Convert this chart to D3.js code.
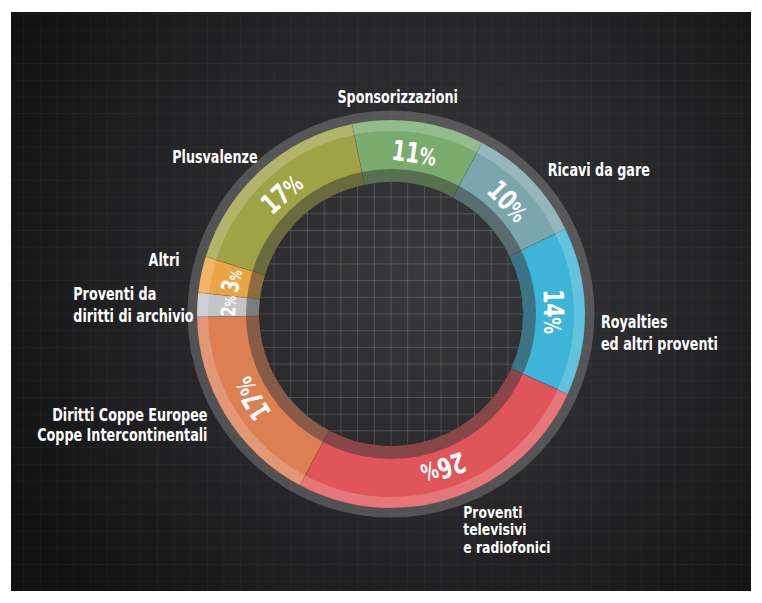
<!DOCTYPE html>
<html>
<head>
<meta charset="utf-8">
<script src="https://cdn.jsdelivr.net/npm/d3@7"></script>
<style>
body { margin: 0; background: #fff; }
svg { display: block; }
text { font-family: "DejaVu Sans", sans-serif; font-weight: bold; fill: #fff; }
</style>
</head>
<body>
<div id="chart"></div>
<script>
// Data, clockwise from the top
var categories = [
    ["Sponsorizzazioni"],
    ["Ricavi da gare"],
    ["Royalties", "ed altri proventi"],
    ["Proventi", "televisivi", "e radiofonici"],
    ["Diritti Coppe Europee", "Coppe Intercontinentali"],
    ["Proventi da", "diritti di archivio"],
    ["Altri"],
    ["Plusvalenze"]
];
var values = [11, 10, 14, 26, 17, 2, 3, 17];
var colors = ["#7aab6e", "#7ba6ab", "#3db4d8", "#df555a", "#dc7f53", "#c2c4c6", "#eca344", "#a0a246"];

var svgWidth = 762;
var svgHeight = 603;
var cx = 391, cy = 314;

var svg = d3.select("#chart")
    .append("svg")
    .attr("width", svgWidth)
    .attr("height", svgHeight);

var defs = svg.append("defs");
var grad = defs.append("radialGradient")
    .attr("id", "bg")
    .attr("gradientUnits", "userSpaceOnUse")
    .attr("cx", 430).attr("cy", 270).attr("r", 470);
grad.append("stop").attr("offset", "0").attr("stop-color", "#3a393b");
grad.append("stop").attr("offset", "0.55").attr("stop-color", "#262527");
grad.append("stop").attr("offset", "1").attr("stop-color", "#121213");

defs.append("clipPath").attr("id", "inner")
    .append("circle").attr("cx", cx).attr("cy", cy).attr("r", 140);
defs.append("clipPath").attr("id", "panel")
    .append("rect").attr("x", 11).attr("y", 12).attr("width", 740).attr("height", 579);

// dark panel
svg.append("rect")
    .attr("x", 11).attr("y", 12)
    .attr("width", 740).attr("height", 579)
    .attr("fill", "url(#bg)");

// grid lines aligned on the centre
var step = 16.7;
var ks = d3.range(-24, 25);
function drawGrid(g, op) {
    g.selectAll("line.v").data(ks).enter().append("line")
        .attr("x1", k => cx + k * step).attr("x2", k => cx + k * step)
        .attr("y1", 0).attr("y2", svgHeight)
        .attr("stroke", "#fff").attr("stroke-opacity", op).attr("stroke-width", 1);
    g.selectAll("line.h").data(ks).enter().append("line")
        .attr("y1", k => cy + k * step).attr("y2", k => cy + k * step)
        .attr("x1", 0).attr("x2", svgWidth)
        .attr("stroke", "#fff").attr("stroke-opacity", op).attr("stroke-width", 1);
}
drawGrid(svg.append("g").attr("clip-path", "url(#panel)"), 0.035);
drawGrid(svg.append("g").attr("clip-path", "url(#inner)"), 0.13);

var chartGroup = svg.append("g")
    .attr("transform", `translate(${cx}, ${cy})`);

// outer grey ring
chartGroup.append("circle")
    .attr("r", 198.5)
    .attr("fill", "none")
    .attr("stroke", "#fff")
    .attr("stroke-opacity", 0.2)
    .attr("stroke-width", 10);

var start = -11.6 * Math.PI / 180;
var pie = d3.pie()
    .sort(null)
    .startAngle(start)
    .endAngle(start + 2 * Math.PI);
var arcs = pie(values);

var arc = d3.arc().innerRadius(132).outerRadius(194);
var lightArc = d3.arc().innerRadius(183).outerRadius(194);
var pctArc = d3.arc().innerRadius(163).outerRadius(163);
var labelArc = d3.arc().innerRadius(215).outerRadius(215);

chartGroup.selectAll("path.seg")
    .data(arcs)
    .enter()
    .append("path")
    .attr("class", "seg")
    .attr("d", arc)
    .attr("fill", (d, i) => colors[i])
    .attr("stroke", "rgba(0,0,0,0.15)")
    .attr("stroke-width", 0.6);

chartGroup.selectAll("path.light")
    .data(arcs)
    .enter()
    .append("path")
    .attr("d", lightArc)
    .attr("fill", "#fff")
    .attr("fill-opacity", 0.2);

// dark inner band over the segments
chartGroup.append("path")
    .attr("d", d3.arc()({ innerRadius: 132, outerRadius: 145, startAngle: 0, endAngle: 2 * Math.PI }))
    .attr("fill", "#3a3a3a")
    .attr("fill-opacity", 0.52);

// percent labels, turned along the ring
var numSize = [28, 28, 28, 28, 28, 20, 24, 28];
var pct = chartGroup.selectAll("text.pct")
    .data(arcs)
    .enter()
    .append("text")
    .attr("class", "pct")
    .attr("text-anchor", "middle")
    .attr("dy", "0.36em")
    .attr("transform", function(d) {
        var c = pctArc.centroid(d);
        var a = (d.startAngle + d.endAngle) / 2 * 180 / Math.PI;
        return `translate(${c[0]}, ${c[1]}) rotate(${a}) scale(0.72, 1)`;
    })
    .attr("font-size", (d, i) => numSize[i]);
pct.append("tspan").text(d => d.data);
pct.append("tspan")
    .attr("font-size", (d, i) => numSize[i] < 25 ? 15 : 23)
    .text("%");

// outer category labels
var anchors = ["middle", "start", "start", "start", "end", "start", "end", "end"];
var nudge = [[-24, 2], [2, 11], [-5, 17], [3, 0], [0, -5], [-103, -3], [-1, -4], [11, 8]];
var lineGap = [22, 22, 22, 17.5, 20, 22, 22, 22];

chartGroup.selectAll("text.cat")
    .data(arcs)
    .enter()
    .append("text")
    .attr("class", "cat")
    .attr("font-size", (d, i) => i === 3 ? 15.5 : 17)
    .attr("text-anchor", (d, i) => anchors[i])
    .attr("transform", function(d, i) {
        var c = labelArc.centroid(d);
        var sx = i === 3 ? 0.8 : 0.75;
        return `translate(${c[0] + nudge[i][0]}, ${c[1] + nudge[i][1]}) scale(${sx}, 1)`;
    })
    .each(function(d, i) {
        d3.select(this).selectAll("tspan")
            .data(categories[i])
            .enter()
            .append("tspan")
            .attr("x", 0)
            .attr("y", (t, j) => j * lineGap[i])
            .text(t => t);
    });
</script>
</body>
</html>
